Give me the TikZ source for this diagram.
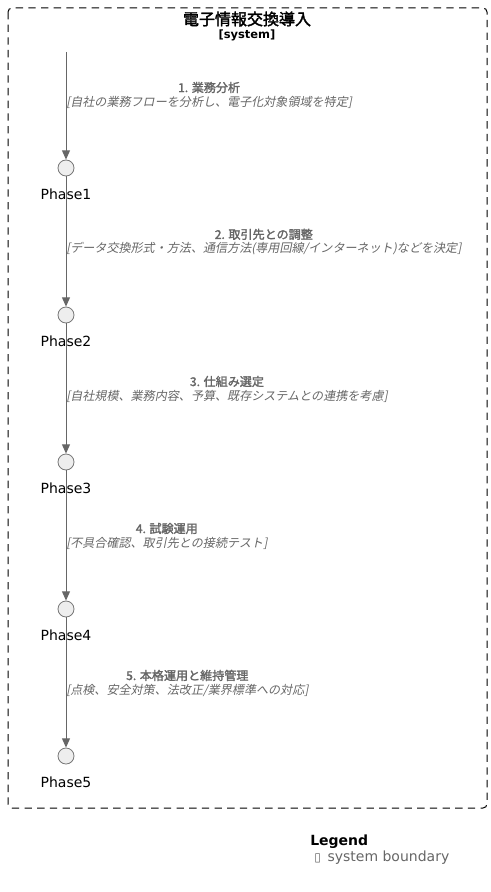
\documentclass[tikz,border=0pt]{standalone}
\usepackage{fontspec}
\setmainfont{DejaVu Sans}
\newfontfamily\cjk{Noto Sans CJK JP}
\newfontfamily\cjkb[FakeBold=2]{Noto Sans CJK JP}
\newfontfamily\cjkit[FakeSlant=0.2]{Noto Sans CJK JP}
\usetikzlibrary{arrows.meta}
\definecolor{edgegray}{HTML}{666666}
\definecolor{circfill}{HTML}{EEEEEE}
\definecolor{circline}{HTML}{777777}
\tikzset{
  phase/.style={circle, draw=circline, fill=circfill, line width=0.6pt, minimum size=16*0.75pt, inner sep=0pt},
  phaselabel/.style={font=\fontsize{10.5pt}{12pt}\selectfont, text=black, inner sep=0pt},
  flow/.style={draw=edgegray, line width=0.75pt, -{Triangle[length=7pt,width=6pt]}},
  elabel/.style={anchor=west, align=center, inner sep=0pt, text=edgegray, font=\fontsize{9.05pt}{10.5pt}\selectfont},
}
\begin{document}
\begin{tikzpicture}[x=0.75pt,y=-0.75pt]
\useasboundingbox (0,0) rectangle (491,892);
% boundary
\draw[black, line width=0.75pt, dash pattern=on 5.5pt off 4pt, rounded corners=3pt] (8,8) rectangle (487,808);
\node (title) at (247,19) {\cjkb\fontsize{12pt}{14pt}\selectfont 電子情報交換導入};
\node (stype) at (247,35) {\fontsize{8.6pt}{10pt}\selectfont\bfseries [system]};
% start
\coordinate (start) at (66,52);
\node[phase] (p1) at (66,168) {};
\node[phase] (p2) at (66,315) {};
\node[phase] (p3) at (66,462) {};
\node[phase] (p4) at (66,609) {};
\node[phase] (p5) at (66,756) {};
\draw[flow] (start) -- (p1);
\draw[flow] (p1) -- (p2);
\draw[flow] (p2) -- (p3);
\draw[flow] (p3) -- (p4);
\draw[flow] (p4) -- (p5);
\node[phaselabel] (l1) at (66,194) {Phase1};
\node[phaselabel] (l2) at (66,341) {Phase2};
\node[phaselabel] (l3) at (66,488) {Phase3};
\node[phaselabel] (l4) at (66,635) {Phase4};
\node[phaselabel] (l5) at (66,782) {Phase5};
\node[elabel] (e1) at (66,95) {{\cjkb 1. 業務分析}\\{\cjkit [自社の業務フローを分析し、電子化対象領域を特定]}};
\node[elabel] (e2) at (66,242) {{\cjkb 2. 取引先との調整}\\{\cjkit [データ交換形式・方法、通信方法(専用回線/インターネット)などを決定]}};
\node[elabel] (e3) at (66,389) {{\cjkb 3. 仕組み選定}\\{\cjkit [自社規模、業務内容、予算、既存システムとの連携を考慮]}};
\node[elabel] (e4) at (66,536) {{\cjkb 4. 試験運用}\\{\cjkit [不具合確認、取引先との接続テスト]}};
\node[elabel] (e5) at (66,683) {{\cjkb 5. 本格運用と維持管理}\\{\cjkit [点検、安全対策、法改正/業界標準への対応]}};
% legend
\node[anchor=west, inner sep=0pt, font=\fontsize{10.5pt}{12pt}\selectfont\bfseries] (leg) at (310,842) {Legend};
\node[anchor=west, inner sep=0pt, text=edgegray, font=\fontsize{10.5pt}{12pt}\selectfont] (legi) at (314,858) {{\fontsize{9pt}{10pt}\selectfont ▯}\hspace{5pt}system boundary};
\end{tikzpicture}
\end{document}
